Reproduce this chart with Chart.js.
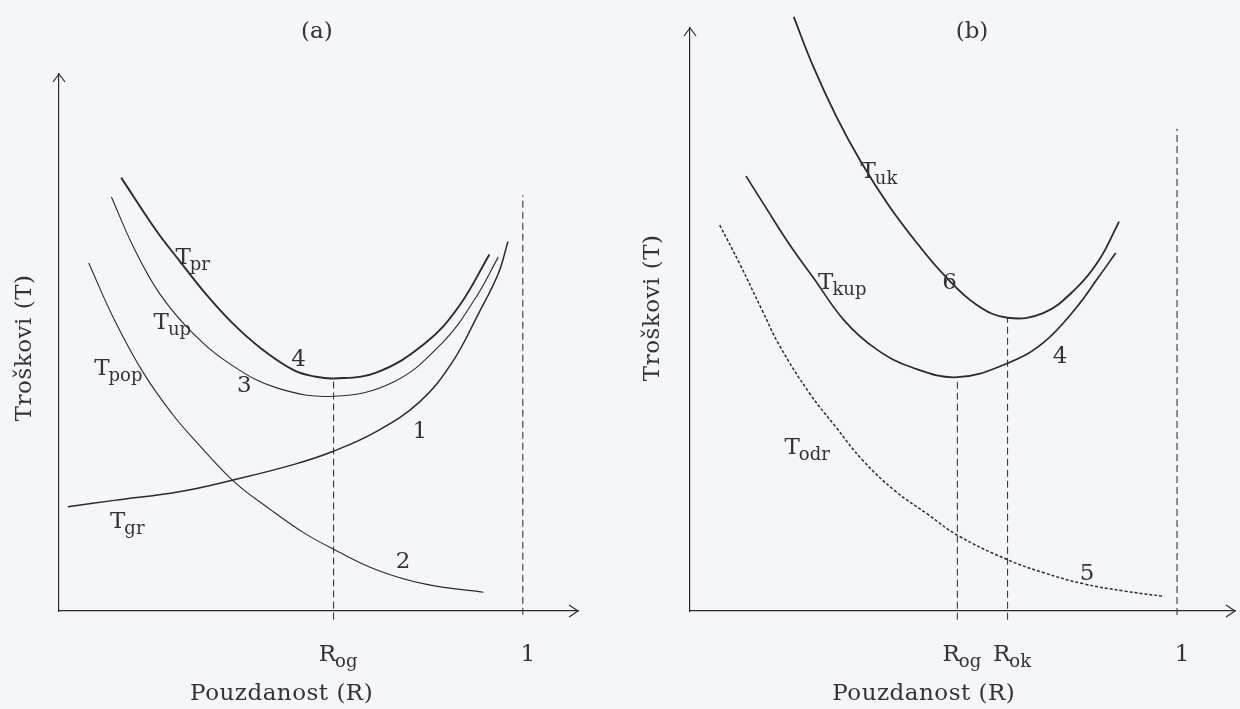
<!DOCTYPE html>
<html>
<head>
<meta charset="utf-8">
<title>Troškovi i pouzdanost</title>
<script src="https://cdn.jsdelivr.net/npm/chart.js@4.4.0/dist/chart.umd.min.js"></script>
<style>
    html, body { margin: 0; padding: 0; background: #f5f6fa; }
    #wrap { position: relative; width: 1240px; height: 709px; overflow: hidden; }
    canvas { position: absolute; top: 0; }
</style>
</head>
<body>
<div id="wrap">
    <canvas id="chartA" width="620" height="709" style="left:0"></canvas>
    <canvas id="chartB" width="620" height="709" style="left:620px"></canvas>
</div>
<script>
// ============================================
// Data (R = pouzdanost, T = troškovi, relative units)
// ============================================

const R_MAX = 1.119;
const T_MAX = 100;

// --- panel (a) ---
const prR = [0.134, 0.210, 0.259, 0.316, 0.374, 0.437, 0.507, 0.550, 0.592, 0.684, 0.790, 0.862, 0.928];
const prT = [80.7, 70.8, 65.3, 59.1, 53.6, 48.8, 44.8, 43.7, 43.3, 44.4, 49.9, 56.7, 66.4];

const upR = [0.113, 0.161, 0.217, 0.289, 0.374, 0.471, 0.592, 0.720, 0.826, 0.896, 0.947];
const upT = [77.1, 67.7, 59.1, 51.7, 45.7, 41.5, 40.0, 42.6, 49.9, 58.0, 65.9];

const popR = [0.064, 0.119, 0.183, 0.246, 0.295, 0.376, 0.459, 0.529, 0.590, 0.684, 0.790, 0.915];
const popT = [64.8, 54.3, 44.2, 36.5, 31.6, 24.2, 18.7, 14.5, 11.6, 7.7, 5.0, 3.5];

const grR = [0.019, 0.119, 0.259, 0.376, 0.507, 0.590, 0.684, 0.777, 0.847, 0.904, 0.947, 0.968];
const grT = [19.4, 20.6, 22.2, 24.4, 27.3, 29.7, 33.4, 38.9, 46.2, 55.3, 62.8, 68.8];

const aGuideR = [0.592, 1.0];
const aGuideTop = [43.3, 77.4];
const aGuideBottom = [-1.6, -0.7];

const aTickR = [0.592, 1.0];
const aTickText = [["R", "og"], ["1", ""]];

// curve names and numbers: [main, subscript, R, T]
const aLabels = [
    ["T", "pr", 0.251, 64.6],
    ["T", "up", 0.204, 52.5],
    ["T", "pop", 0.076, 43.9],
    ["T", "gr", 0.110, 15.4],
    ["4", "", 0.501, 45.7],
    ["3", "", 0.384, 40.7],
    ["1", "", 0.762, 32.3],
    ["2", "", 0.726, 8.1],
];

// --- panel (b) ---
const ukR = [0.213, 0.253, 0.300, 0.350, 0.407, 0.468, 0.522, 0.589, 0.652, 0.725, 0.791, 0.840, 0.881];
const ukT = [101.9, 93.4, 84.9, 77.2, 69.7, 62.9, 57.6, 52.5, 50.3, 51.1, 55.2, 60.2, 66.8];

const kupR = [0.115, 0.152, 0.204, 0.253, 0.316, 0.381, 0.455, 0.549, 0.652, 0.725, 0.791, 0.840, 0.874];
const kupT = [74.6, 69.7, 62.9, 57.2, 49.9, 45.0, 41.8, 40.1, 42.5, 46.0, 51.8, 57.4, 61.4];

const odrR = [0.061, 0.103, 0.148, 0.184, 0.245, 0.300, 0.354, 0.421, 0.488, 0.549, 0.652, 0.725, 0.806, 0.893, 0.974];
const odrT = [66.2, 59.4, 51.6, 45.5, 37.4, 31.5, 25.9, 20.6, 16.6, 13.0, 8.8, 6.6, 4.7, 3.4, 2.5];

const bGuideR = [0.549, 0.652, 1.0];
const bGuideTop = [40.1, 50.3, 82.7];
const bGuideBottom = [-1.5, -1.5, -0.7];

const bTickR = [0.549, 0.652, 1.0];
const bTickText = [["R", "og"], ["R", "ok"], ["1", ""]];

const bLabels = [
    ["T", "uk", 0.350, 74.3],
    ["T", "kup", 0.263, 55.2],
    ["T", "odr", 0.194, 26.9],
    ["6", "", 0.518, 55.2],
    ["4", "", 0.745, 42.5],
    ["5", "", 0.800, 5.4],
];

// ============================================
// Helpers
// ============================================

const INK = "#2b2b2b";
const FONT_MAIN = "23px 'DejaVu Serif'";
const FONT_SUB = "18px 'DejaVu Serif'";

function zip(xs, ys) {
    return xs.map((x, i) => ({ x: x, y: ys[i] }));
}

function curve(xs, ys, width, dash) {
    return {
        data: zip(xs, ys),
        showLine: true,
        borderColor: INK,
        borderWidth: width,
        borderDash: dash || [],
        pointRadius: 0,
        tension: 0.4,
        clip: false,
    };
}

function guides(xs, tops, bottoms) {
    return xs.map((x, i) => ({
        data: [{ x: x, y: bottoms[i] }, { x: x, y: tops[i] }],
        showLine: true,
        borderColor: "#3a3a3a",
        borderWidth: 1.1,
        borderDash: [7, 4],
        pointRadius: 0,
        clip: false,
    }));
}

function drawSub(ctx, main, low, x, y, center) {
    ctx.font = FONT_MAIN;
    const w1 = ctx.measureText(main).width;
    ctx.font = FONT_SUB;
    const w2 = low ? ctx.measureText(low).width : 0;
    const x0 = center ? x - (w1 + w2) / 2 : x;
    ctx.textAlign = "left";
    ctx.textBaseline = "alphabetic";
    ctx.font = FONT_MAIN;
    ctx.fillText(main, x0, y);
    if (low) {
        ctx.font = FONT_SUB;
        ctx.fillText(low, x0 + w1 - 1, y + 6);
    }
}

// axis arrows, axis titles, tick names and curve names
const inkPlugin = {
    id: "ink",
    afterDraw(chart, args, opts) {
        const ctx = chart.ctx;
        const xs = chart.scales.x;
        const ys = chart.scales.y;
        const x0 = xs.getPixelForValue(0);
        const y0 = ys.getPixelForValue(0);
        const xEnd = xs.getPixelForValue(R_MAX);
        const yEnd = ys.getPixelForValue(T_MAX);

        ctx.save();
        ctx.strokeStyle = INK;
        ctx.fillStyle = "#333";
        ctx.lineWidth = 1.2;

        ctx.beginPath();
        ctx.moveTo(xEnd - 9, y0 - 6);
        ctx.lineTo(xEnd, y0);
        ctx.lineTo(xEnd - 9, y0 + 6);
        ctx.moveTo(x0 - 6, yEnd + 8);
        ctx.lineTo(x0, yEnd);
        ctx.lineTo(x0 + 6, yEnd + 8);
        ctx.stroke();

        // panel letter
        ctx.font = FONT_MAIN;
        ctx.textAlign = "center";
        ctx.textBaseline = "middle";
        ctx.fillText(opts.letter, xs.getPixelForValue(opts.letterR), 32);

        // axis titles
        ctx.letterSpacing = "0.5px";
        ctx.fillText("Pouzdanost (R)", xs.getPixelForValue(0.48), 694);
        ctx.save();
        ctx.translate(opts.yTitleX, ys.getPixelForValue(opts.yTitleT));
        ctx.rotate(-Math.PI / 2);
        ctx.fillText("Troškovi (T)", 0, 0);
        ctx.restore();
        ctx.letterSpacing = "0px";

        opts.tickR.forEach((r, i) => {
            const t = opts.tickText[i];
            drawSub(ctx, t[0], t[1], xs.getPixelForValue(r) + 5, 661, true);
        });

        opts.labels.forEach((l) => {
            drawSub(ctx, l[0], l[1], xs.getPixelForValue(l[2]), ys.getPixelForValue(l[3]), false);
        });

        ctx.restore();
    },
};

function buildChart(id, datasets, padding, ink) {
    const axis = (max) => ({
        type: "linear",
        min: 0,
        max: max,
        grid: { display: false },
        ticks: { display: false },
        border: { display: true, color: INK, width: 1.2 },
    });

    return new Chart(document.getElementById(id), {
        type: "scatter",
        data: { datasets: datasets },
        options: {
            responsive: false,
            animation: false,
            layout: { padding: padding, autoPadding: false },
            plugins: {
                legend: { display: false },
                tooltip: { enabled: false },
                ink: ink,
            },
            scales: { x: axis(R_MAX), y: axis(T_MAX) },
        },
        plugins: [inkPlugin],
    });
}

// ============================================
// Init
// ============================================

buildChart(
    "chartA",
    [
        curve(prR, prT, 1.9),
        curve(upR, upT, 1.1),
        curve(popR, popT, 1.1),
        curve(grR, grT, 1.5),
        ...guides(aGuideR, aGuideTop, aGuideBottom),
    ],
    { left: 51, right: 42, top: 74, bottom: 90 },
    {
        letter: "(a)",
        letterR: 0.556,
        yTitleX: 25,
        yTitleT: 49,
        tickR: aTickR,
        tickText: aTickText,
        labels: aLabels,
    }
);

buildChart(
    "chartB",
    [
        curve(ukR, ukT, 1.8),
        curve(kupR, kupT, 1.7),
        curve(odrR, odrT, 1.5, [3, 2]),
        ...guides(bGuideR, bGuideTop, bGuideBottom),
    ],
    { left: 62, right: 5, top: 28, bottom: 90 },
    {
        letter: "(b)",
        letterR: 0.579,
        yTitleX: 33,
        yTitleT: 52,
        tickR: bTickR,
        tickText: bTickText,
        labels: bLabels,
    }
);
</script>
</body>
</html>
